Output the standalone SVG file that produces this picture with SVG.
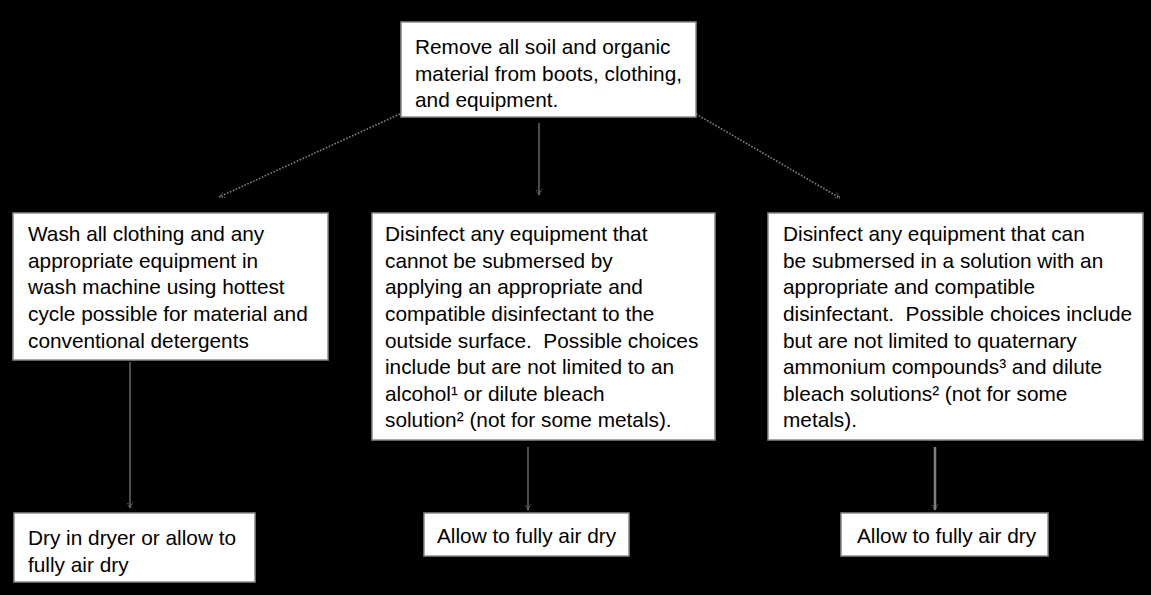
<svg xmlns="http://www.w3.org/2000/svg" width="1151" height="595" viewBox="0 0 1151 595">
<style>
.box{fill:#ffffff;stroke:#8a8a8a;stroke-width:1.5}
.t{font-family:"Liberation Sans",Arial,sans-serif;font-size:20.8px;fill:#000000;white-space:pre}
.c{fill:none;stroke:#808080;stroke-width:1.2}
.d{fill:none;stroke:#808080;stroke-width:1.6;stroke-dasharray:1.6 1.6}
</style>
<defs>
<marker id="ah" viewBox="0 0 10 10" refX="9" refY="5" markerWidth="7" markerHeight="7" orient="auto" markerUnits="userSpaceOnUse">
<path d="M1,1 L9,5 L1,9" fill="none" stroke="#808080" stroke-width="1.5" stroke-dasharray="1.5 1.5"/>
</marker>
</defs>
<rect x="0" y="0" width="1151" height="595" fill="#000000"/>
<g id="connectors">
<path class="d" d="M400,114 L219,197" marker-end="url(#ah)"/>
<path class="c" d="M539,123 L539,195" marker-end="url(#ah)"/>
<path class="d" d="M696,114 L840,198" marker-end="url(#ah)"/>
<path class="c" d="M130,362 L130,508" marker-end="url(#ah)"/>
<path class="c" d="M528,447 L528,510" marker-end="url(#ah)"/>
<path class="c" style="stroke-width:2.5" d="M935,447 L935,510" marker-end="url(#ah)"/>
</g>
<g id="n-remove">
<rect class="box" x="401" y="22" width="295" height="95"/>
<text class="t" x="415"><tspan x="415" y="54">Remove all soil and organic</tspan><tspan x="415" y="81">material from boots, clothing,</tspan><tspan x="415" y="107">and equipment.</tspan></text>
</g>
<g id="n-wash">
<rect class="box" x="13" y="213" width="315" height="147"/>
<text class="t"><tspan x="28" y="241">Wash all clothing and any</tspan><tspan x="28" y="268">appropriate equipment in</tspan><tspan x="28" y="294">wash machine using hottest</tspan><tspan x="28" y="321">cycle possible for material and</tspan><tspan x="28" y="348">conventional detergents</tspan></text>
</g>
<g id="n-nonsub">
<rect class="box" x="372" y="213" width="343" height="227"/>
<text class="t" xml:space="preserve"><tspan x="385" y="241">Disinfect any equipment that</tspan><tspan x="385" y="268">cannot be submersed by</tspan><tspan x="385" y="294">applying an appropriate and</tspan><tspan x="385" y="321">compatible disinfectant to the</tspan><tspan x="385" y="348">outside surface.  Possible choices</tspan><tspan x="385" y="374">include but are not limited to an</tspan><tspan x="385" y="401">alcohol¹ or dilute bleach</tspan><tspan x="385" y="427">solution² (not for some metals).</tspan></text>
</g>
<g id="n-sub">
<rect class="box" x="768" y="213" width="375" height="227"/>
<text class="t" xml:space="preserve"><tspan x="783" y="241">Disinfect any equipment that can</tspan><tspan x="783" y="268">be submersed in a solution with an</tspan><tspan x="783" y="294">appropriate and compatible</tspan><tspan x="783" y="321">disinfectant.  Possible choices include</tspan><tspan x="783" y="348">but are not limited to quaternary</tspan><tspan x="783" y="374">ammonium compounds³ and dilute</tspan><tspan x="783" y="401">bleach solutions² (not for some</tspan><tspan x="783" y="427">metals).</tspan></text>
</g>
<g id="n-dry1">
<rect class="box" x="14" y="513" width="241" height="69"/>
<text class="t"><tspan x="28" y="545">Dry in dryer or allow to</tspan><tspan x="28" y="572">fully air dry</tspan></text>
</g>
<g id="n-dry2">
<rect class="box" x="424" y="513" width="205" height="43"/>
<text class="t" x="437" y="543">Allow to fully air dry</text>
</g>
<g id="n-dry3">
<rect class="box" x="841" y="513" width="207" height="43"/>
<text class="t" x="857" y="543">Allow to fully air dry</text>
</g>
</svg>
